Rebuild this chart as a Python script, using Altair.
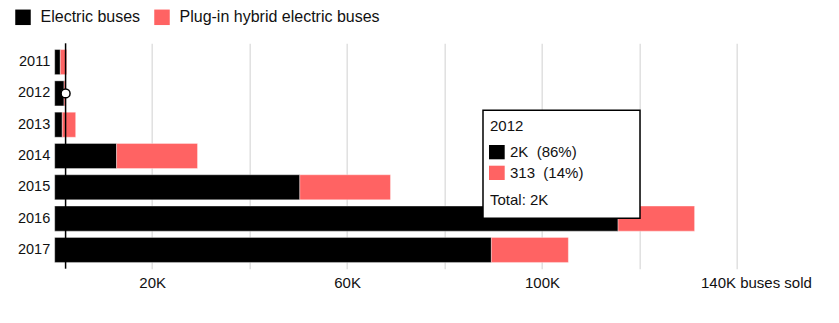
import altair as alt
import pandas as pd

# ---- data ----
years = ["2011", "2012", "2013", "2014", "2015", "2016", "2017"]
electric = [1150, 1920, 1550, 12700, 50300, 115600, 89600]
hybrid = [1310, 313, 2750, 16600, 18600, 15700, 15800]
series_names = ["Electric buses", "Plug-in hybrid electric buses"]
series_colors = ["#000000", "#ff6363"]
x_ticks = [20000, 40000, 60000, 80000, 100000, 120000, 140000]
x_unit = "buses sold"
hover_year = "2012"

rows = []
for y, e, h in zip(years, electric, hybrid):
    rows.append({"year": y, "series": series_names[0], "value": e, "order": 0})
    rows.append({"year": y, "series": series_names[1], "value": h, "order": 1})
df = pd.DataFrame(rows)


def fmt(v):
    return f"{round(v / 1000)}K" if v >= 1000 else str(v)


hi = years.index(hover_year)
he, hh = electric[hi], hybrid[hi]
htot = he + hh
tip_e = f"{fmt(he)}\u00a0\u00a0({round(100 * he / htot)}%)"
tip_h = f"{fmt(hh)}\u00a0\u00a0({round(100 * hh / htot)}%)"
tip_total = f"Total: {fmt(htot)}"

# ---- layout ----
W = 731
H = 225.4
PL = 54.7
PT = 43.3
FONT = "Liberation Sans"
TXT = "#111111"

xscale = alt.Scale(domain=[0, 150000], nice=False, zero=True)
xaxis = alt.Axis(
    values=x_ticks, title=None, grid=True, gridColor="#e0e0e0", gridWidth=1.5,
    ticks=False, domain=False,
    labelExpr="(datum.value % 40000 == 20000 && datum.value < 140000) ? format(datum.value/1000, 'd') + 'K' : ''",
    labelFontSize=15, labelColor=TXT, labelPadding=14, labelBaseline="middle",
)
yscale = alt.Scale(paddingInner=0.2, paddingOuter=0.2)
yaxis = alt.Axis(title=None, ticks=False, domain=False, grid=False,
                 labelFontSize=14.5, labelPadding=5, labelColor=TXT)


def Y():
    return alt.Y("year:N", sort=years, scale=yscale, axis=yaxis)


bars = alt.Chart(df).mark_bar(stroke="white", strokeWidth=1, strokeOpacity=0.35).encode(
    x=alt.X("value:Q", stack="zero", scale=xscale, axis=xaxis),
    y=Y(),
    color=alt.Color(
        "series:N",
        scale=alt.Scale(domain=series_names, range=series_colors),
        legend=alt.Legend(
            orient="none", legendX=-39.7, legendY=-34, direction="horizontal",
            title=None, symbolType="square", symbolSize=240, symbolStrokeWidth=0,
            labelFontSize=16, labelOffset=9.5, columnPadding=13, padding=0,
            labelColor=TXT, labelLimit=0,
        ),
    ),
    order=alt.Order("order:Q", sort="ascending"),
)

hover = alt.Chart(df).transform_filter(alt.datum.year == hover_year)

rule = hover.mark_rule(color="black", strokeWidth=1.5).encode(
    x=alt.X("sum(value):Q", scale=xscale, axis=xaxis),
)

dot = hover.mark_point(shape="circle", filled=True, fill="white", stroke="black",
                       strokeWidth=1.5, size=80, opacity=1).encode(
    x=alt.X("sum(value):Q", scale=xscale, axis=xaxis),
    y=Y(),
)

unit_label = alt.Chart(pd.DataFrame({"v": [x_ticks[-1]], "t": [f"{fmt(x_ticks[-1])} {x_unit}"]})).mark_text(
    align="left", baseline="middle", fontSize=15, color=TXT, dx=-36
).encode(
    x=alt.X("v:Q", scale=xscale, axis=xaxis),
    y=alt.value(H + 14),
    text="t:N",
)

one = pd.DataFrame({"k": [0]})
box = alt.Chart(one).mark_rect(fill="white", stroke="black", strokeWidth=1.5).encode(
    x=alt.value(428.3), x2=alt.value(585.3), y=alt.value(67), y2=alt.value(175)
)
sw1 = alt.Chart(one).mark_rect(fill=series_colors[0]).encode(
    x=alt.value(434.3), x2=alt.value(450), y=alt.value(101.7), y2=alt.value(116)
)
sw2 = alt.Chart(one).mark_rect(fill=series_colors[1]).encode(
    x=alt.value(434.3), x2=alt.value(450), y=alt.value(122.4), y2=alt.value(136.7)
)


def tip_text(s, x, y):
    return alt.Chart(one).mark_text(align="left", baseline="middle", fontSize=15,
                                    color=TXT, text=s).encode(
        x=alt.value(x), y=alt.value(y)
    )


t0 = tip_text(hover_year, 435.3, 82.7)
t1 = tip_text(tip_e, 455.3, 108.7)
t2 = tip_text(tip_h, 455.3, 129.7)
t3 = tip_text(tip_total, 435.3, 156.7)

chart = alt.layer(bars, rule, dot, unit_label, box, sw1, sw2, t0, t1, t2, t3).properties(
    width=W, height=H,
    padding={"left": PL, "top": PT, "right": 839 - PL - W, "bottom": 323 - PT - H},
    autosize="none",
).configure(font=FONT).configure_view(stroke=None)

chart.save("out.html", embed_options={"renderer": "svg", "actions": False})
